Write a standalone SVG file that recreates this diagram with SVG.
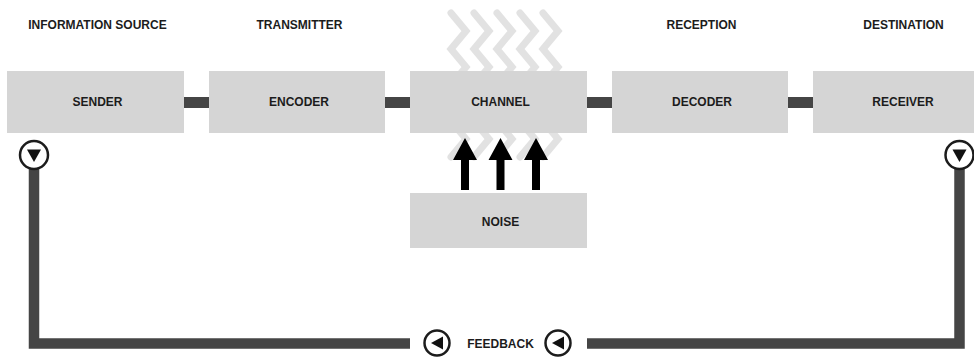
<svg xmlns="http://www.w3.org/2000/svg" width="974" height="357" viewBox="0 0 974 357">
<style>
text{font-family:"Liberation Sans",Arial,sans-serif;font-weight:bold;font-size:12px;fill:#1c1c1c;text-anchor:middle}
.box{fill:#d5d5d5}
.bar{fill:#454545}
.zig{fill:none;stroke:#e2e2e2;stroke-width:7;stroke-linecap:round;stroke-linejoin:miter}
.ring{fill:#fff;stroke:#1c1c1c;stroke-width:2.5}
.tri{fill:#111}
.arrow{fill:#000}
</style>
<rect width="974" height="357" fill="#fff"/>
<g id="headers">
<text x="97.5" y="29">INFORMATION SOURCE</text>
<text x="299.5" y="29">TRANSMITTER</text>
<text x="701.5" y="29">RECEPTION</text>
<text x="903.5" y="29">DESTINATION</text>
</g>
<g id="noise-waves">
<polyline class="zig" points="451,13 466,31 451,49 466,67 451,85 466,103 451,121 466,139 451,157"/>
<polyline class="zig" points="474,13 489,31 474,49 489,67 474,85 489,103 474,121 489,139 474,157"/>
<polyline class="zig" points="497,13 512,31 497,49 512,67 497,85 512,103 497,121 512,139 497,157"/>
<polyline class="zig" points="520,13 535,31 520,49 535,67 520,85 535,103 520,121 535,139 520,157"/>
<polyline class="zig" points="543,13 558,31 543,49 558,67 543,85 558,103 543,121 558,139 543,157"/>
</g>
<g id="connectors">
<rect class="bar" x="184" y="97" width="25" height="11"/>
<rect class="bar" x="385" y="97" width="25" height="11"/>
<rect class="bar" x="587" y="97" width="25" height="11"/>
<rect class="bar" x="788" y="97" width="25" height="11"/>
<path d="M34 168 V343.5 H410 M587 343.5 H959.5 V168" fill="none" stroke="#454545" stroke-width="10.5" stroke-linejoin="miter"/>
<path class="arrow" d="M461 190 V160 H453 L465 138 L477 160 H469 V190 Z"/>
<path class="arrow" d="M496.5 190 V160 H488.5 L500.5 138 L512.5 160 H504.5 V190 Z"/>
<path class="arrow" d="M532 190 V160 H524 L536 138 L548 160 H540 V190 Z"/>
</g>
<g id="sender">
<rect class="box" x="7" y="71" width="177" height="62"/>
<text x="97.5" y="106">SENDER</text>
</g>
<g id="encoder">
<rect class="box" x="209" y="71" width="176" height="62"/>
<text x="299" y="106">ENCODER</text>
</g>
<g id="channel">
<rect class="box" x="410" y="71" width="177" height="62"/>
<text x="500.5" y="106">CHANNEL</text>
</g>
<g id="decoder">
<rect class="box" x="612" y="71" width="176" height="62"/>
<text x="702" y="106">DECODER</text>
</g>
<g id="receiver">
<rect class="box" x="813" y="71" width="177" height="62"/>
<text x="903" y="106">RECEIVER</text>
</g>
<g id="noise">
<rect class="box" x="410" y="193" width="177" height="55"/>
<text x="500.5" y="226">NOISE</text>
</g>
<g id="feedback">
<circle class="ring" cx="34" cy="155" r="14"/>
<polygon class="tri" points="27,149.5 41,149.5 34,162"/>
<circle class="ring" cx="959.5" cy="155" r="14"/>
<polygon class="tri" points="952.5,149.5 966.5,149.5 959.5,162"/>
<circle class="ring" cx="437" cy="343" r="12.5"/>
<polygon class="tri" points="443,336.5 443,349.5 431,343"/>
<circle class="ring" cx="558" cy="343" r="12.5"/>
<polygon class="tri" points="564,336.5 564,349.5 552,343"/>
<text x="500.5" y="347.5">FEEDBACK</text>
</g>
</svg>
